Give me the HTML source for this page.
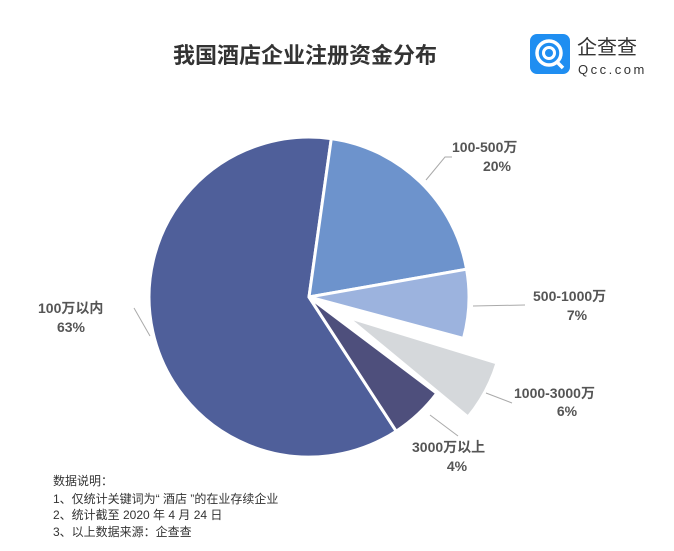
<!DOCTYPE html>
<html><head><meta charset="utf-8"><style>
body{margin:0;background:#fff;}
svg text{font-family:"Liberation Sans","Noto Sans CJK SC",sans-serif;}
</style></head><body>
<svg width="674" height="546" viewBox="0 0 674 546" xmlns="http://www.w3.org/2000/svg">
<rect width="674" height="546" fill="#fff"/>
<text x="305" y="63" text-anchor="middle" font-size="22" font-weight="bold" fill="#333">我国酒店企业注册资金分布</text>
<!-- logo -->
<rect x="530" y="34" width="40" height="40" rx="7" fill="#1f8ef1"/>
<circle cx="549" cy="53" r="12" fill="none" stroke="#fff" stroke-width="3.5"/>
<circle cx="549" cy="53" r="5.5" fill="none" stroke="#fff" stroke-width="3"/>
<path d="M556 61 L563 68" stroke="#fff" stroke-width="3.5"/>
<text x="577" y="54" font-size="20" fill="#333">企查查</text>
<text x="578" y="74" font-size="13" fill="#333" letter-spacing="2.5">Qcc.com</text>
<!-- pie -->
<g stroke="#fff" stroke-width="3" stroke-linejoin="round">
<path d="M309 297 L396.2 431.2 A160 160 0 1 1 331.3 138.6 Z" fill="#4f5f9a"/>
<path d="M309 297 L331.3 138.6 A160 160 0 0 1 466.6 269.2 Z" fill="#6d93cc"/>
<path d="M309 297 L466.6 269.2 A160 160 0 0 1 463.5 338.4 Z" fill="#9cb3de"/>
<path d="M347 317 L497 363 A157 157 0 0 1 468 417 Z" fill="#d5d8db"/>
<path d="M309 297 L436.8 393.3 A160 160 0 0 1 396.2 431.2 Z" fill="#4e4f7c"/>
</g>
<!-- leaders -->
<g stroke="#aaa" stroke-width="1" fill="none">
<polyline points="426,180 445,157 452,157"/>
<polyline points="473,306 525,305"/>
<polyline points="486,393 512,403"/>
<polyline points="430,415 458,436"/>
<polyline points="134,308 150,336"/>
</g>
<g font-size="14" fill="#555" font-weight="bold">
<text x="452" y="152">100-500万</text>
<text x="497" y="171" text-anchor="middle">20%</text>
<text x="533" y="301">500-1000万</text>
<text x="577" y="320" text-anchor="middle">7%</text>
<text x="514" y="398">1000-3000万</text>
<text x="567" y="416" text-anchor="middle">6%</text>
<text x="412" y="452">3000万以上</text>
<text x="457" y="471" text-anchor="middle">4%</text>
<text x="38" y="313">100万以内</text>
<text x="71" y="332" text-anchor="middle">63%</text>
</g>
<g font-size="12" fill="#333">
<text x="53" y="485">数据说明：</text>
<text x="53" y="503">1、仅统计关键词为“ 酒店 ”的在业存续企业</text>
<text x="53" y="519">2、统计截至 2020 年 4 月 24 日</text>
<text x="53" y="536">3、以上数据来源：企查查</text>
</g>
</svg>
</body></html>
